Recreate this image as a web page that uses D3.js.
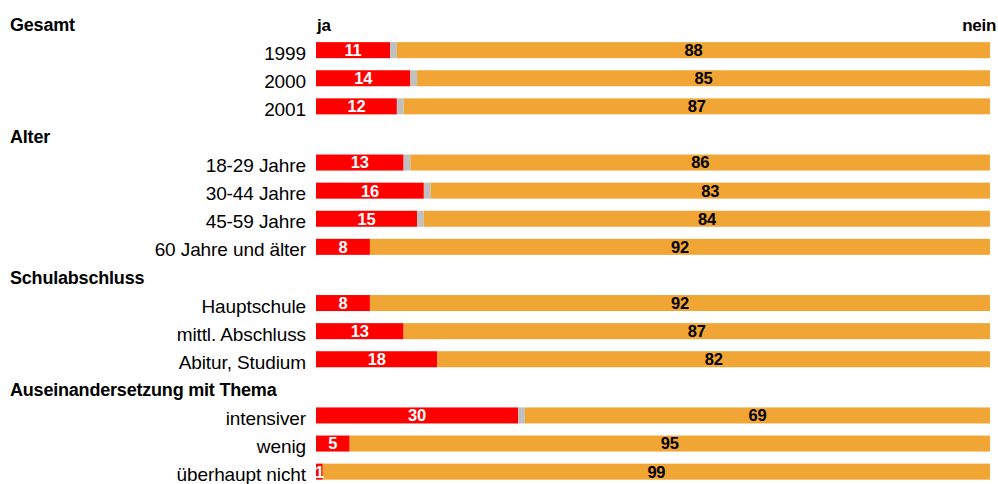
<!DOCTYPE html>
<html>
<head>
<meta charset="utf-8">
<script src="https://cdn.jsdelivr.net/npm/d3@7"></script>
<style>
  body { margin: 0; background: #fff; }
  text { font-family: "Liberation Sans", Arial, sans-serif; }
</style>
</head>
<body>
<div id="chart"></div>
<script>
const groups = ["Gesamt", "Alter", "Schulabschluss", "Auseinandersetzung mit Thema"];
const categories = ["1999", "2000", "2001", "18-29 Jahre", "30-44 Jahre", "45-59 Jahre", "60 Jahre und älter",
  "Hauptschule", "mittl. Abschluss", "Abitur, Studium", "intensiver", "wenig", "überhaupt nicht"];
const groupOf = [0, 0, 0, 1, 1, 1, 1, 2, 2, 2, 3, 3, 3];
const ja = [11, 14, 12, 13, 16, 15, 8, 8, 13, 18, 30, 5, 1];
const keineAngabe = [1, 1, 1, 1, 1, 1, 0, 0, 0, 0, 1, 0, 0];
const nein = [88, 85, 87, 86, 83, 84, 92, 92, 87, 82, 69, 95, 99];

const width = 998, height = 484;

// rows: header row for each group, then its categories
const rows = [];
groups.forEach((g, gi) => {
  rows.push({key: "h" + gi, header: true, label: g});
  categories.forEach((c, i) => {
    if (groupOf[i] === gi) rows.push({key: "c" + i, header: false, label: c, i: i});
  });
});

const svg = d3.select("#chart")
  .append("svg")
  .attr("width", width)
  .attr("height", height);

const x = d3.scaleLinear()
  .domain([0, 100])
  .range([316, 990]);

const y = d3.scaleBand()
  .domain(rows.map(d => d.key))
  .range([8, 485.7])
  .paddingInner(0.43)
  .paddingOuter(0.215);

const colors = {ja: "#ff0000", ka: "#c0c0c0", nein: "#f0a535"};

// column headers
const firstY = y("h0") + y.bandwidth() / 2;
svg.append("text")
  .attr("x", x(0) + 1)
  .attr("y", firstY)
  .attr("dy", "0.5em")
  .attr("font-size", 17)
  .attr("font-weight", "bold")
  .attr("letter-spacing", -0.3)
  .text("ja");
svg.append("text")
  .attr("x", 996)
  .attr("y", firstY)
  .attr("dy", "0.5em")
  .attr("text-anchor", "end")
  .attr("font-size", 17)
  .attr("font-weight", "bold")
  .attr("letter-spacing", -0.3)
  .text("nein");

// labels
svg.selectAll(".label")
  .data(rows)
  .enter()
  .append("text")
  .attr("class", "label")
  .attr("x", d => d.header ? 10 : 306)
  .attr("y", d => y(d.key) + y.bandwidth() / 2)
  .attr("dy", "0.5em")
  .attr("text-anchor", d => d.header ? "start" : "end")
  .attr("font-size", d => d.header ? 18 : 19)
  .attr("font-weight", d => d.header ? "bold" : "normal")
  .attr("letter-spacing", d => d.header ? -0.2 : -0.1)
  .text(d => d.label);

const items = rows.filter(d => !d.header);

const bar = svg.selectAll(".bar")
  .data(items)
  .enter()
  .append("g")
  .attr("class", "bar")
  .attr("transform", d => `translate(0,${y(d.key)})`);

bar.append("rect")
  .attr("x", x(0))
  .attr("width", d => x(ja[d.i]) - x(0))
  .attr("height", y.bandwidth())
  .attr("fill", colors.ja);

bar.append("rect")
  .attr("x", d => x(ja[d.i]))
  .attr("width", d => x(ja[d.i] + keineAngabe[d.i]) - x(ja[d.i]))
  .attr("height", y.bandwidth())
  .attr("fill", colors.ka);

bar.append("rect")
  .attr("x", d => x(ja[d.i] + keineAngabe[d.i]))
  .attr("width", d => x(ja[d.i] + keineAngabe[d.i] + nein[d.i]) - x(ja[d.i] + keineAngabe[d.i]))
  .attr("height", y.bandwidth())
  .attr("fill", colors.nein);

bar.append("text")
  .attr("x", d => (x(0) + x(ja[d.i])) / 2)
  .attr("y", y.bandwidth() / 2)
  .attr("dy", "0.36em")
  .attr("text-anchor", "middle")
  .attr("font-size", 16.5)
  .attr("font-weight", "bold")
  .attr("letter-spacing", -0.2)
  .attr("fill", "#fff")
  .text(d => ja[d.i]);

bar.append("text")
  .attr("x", d => (x(ja[d.i] + keineAngabe[d.i]) + x(100)) / 2)
  .attr("y", y.bandwidth() / 2)
  .attr("dy", "0.36em")
  .attr("text-anchor", "middle")
  .attr("font-size", 16.5)
  .attr("font-weight", "bold")
  .attr("letter-spacing", -0.2)
  .attr("fill", "#000")
  .text(d => nein[d.i]);
</script>
</body>
</html>
